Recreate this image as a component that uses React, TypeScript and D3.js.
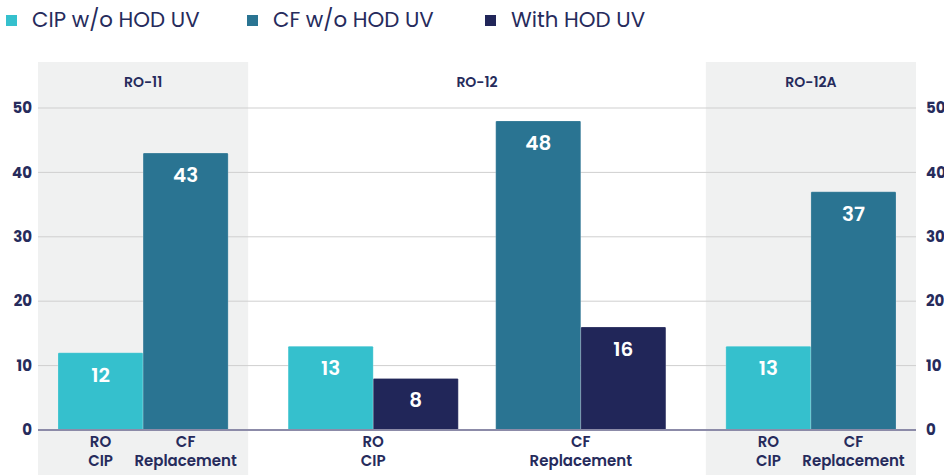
import React from "react";
import * as d3 from "d3";

const seriesNames = ["CIP w/o HOD UV", "CF w/o HOD UV", "With HOD UV"];
const seriesColors = ["#35C0CD", "#2A7492", "#212659"];

const panelNames = ["RO-11", "RO-12", "RO-12A"];
const categoryLabels = [["RO", "CIP"], ["CF", "Replacement"]];

// value per panel, per category, per series (null = no bar)
const ro11 = [[12, null, null], [null, 43, null]];
const ro12 = [[13, null, 8], [null, 48, 16]];
const ro12a = [[13, null, null], [null, 37, null]];
const panelValues = [ro11, ro12, ro12a];

const yTicks = [0, 10, 20, 30, 40, 50];

const W = 944, H = 475;
const left = 38, right = 916, top = 62, bottom = 430;
const ink = "#262B5C";
const font = "Poppins, Inter, 'Noto Sans', sans-serif";

// layout in bar-width units
const panelPad = [0.235, 0.47, 0.235];
const panelGap = [0, 0.44, 0];

export default function App() {
  const y = d3.scaleLinear().domain([0, 50]).range([bottom, 108]);

  // compute panel widths in units
  const layout = panelValues.map((cats, i) => {
    const counts = cats.map(c => c.filter(v => v !== null).length);
    const w = panelPad[i] * 2 + d3.sum(counts) + panelGap[i] * (counts.length - 1);
    return { counts, w };
  });
  const total = d3.sum(layout, l => l.w);
  const x = d3.scaleLinear().domain([0, total]).range([left, right]);

  const panels: any[] = [];
  let cursor = 0;
  layout.forEach((l, i) => {
    const start = cursor;
    let u = start + panelPad[i];
    const cats = panelValues[i].map((vals, ci) => {
      const bars: any[] = [];
      const catStart = u;
      vals.forEach((v, si) => {
        if (v === null) return;
        bars.push({ v, si, x0: x(u), x1: x(u + 1) });
        u += 1;
      });
      const c = { bars, center: (x(catStart) + x(u)) / 2, label: categoryLabels[ci] };
      u += panelGap[i];
      return c;
    });
    cursor += l.w;
    panels.push({ name: panelNames[i], x0: x(start), x1: x(cursor), cats, shaded: i !== 1 });
  });

  const legendX = [8, 249, 487];

  return (
    <svg width={W} height={H} style={{ position: "absolute", left: 0, top: 0, fontFamily: font }}>
      <rect width={W} height={H} fill="#fff" />
      {seriesNames.map((s, i) => (
        <g key={s} transform={`translate(${legendX[i]},0)`}>
          <rect x={-2} y={15} width={11} height={11} fill={seriesColors[i]} />
          <text x={24} y={27} fontSize={21.3} fill={ink}>{s}</text>
        </g>
      ))}
      {panels.map(p => p.shaded && (
        <rect key={p.name} x={p.x0} y={top} width={p.x1 - p.x0} height={H - top} fill="#F0F1F1" />
      ))}
      {yTicks.map(t => (
        <g key={t}>
          {t > 0 && <line x1={left} x2={right} y1={y(t)} y2={y(t)} stroke="#CFCFCF" strokeWidth={1} />}
          <text x={32} y={y(t)} dy="0.35em" textAnchor="end" fontSize={15} fontWeight={700} fill={ink}>{t}</text>
          <text x={926} y={y(t)} dy="0.35em" textAnchor="start" fontSize={15} fontWeight={700} fill={ink}>{t}</text>
        </g>
      ))}
      {panels.map(p => (
        <g key={p.name}>
          <text x={(p.x0 + p.x1) / 2} y={82} dy="0.35em" textAnchor="middle" fontSize={14} fontWeight={600} fill={ink}>{p.name}</text>
          {p.cats.map((c: any, ci: number) => (
            <g key={ci}>
              {c.bars.map((b: any) => (
                <g key={b.si}>
                  <rect x={b.x0} y={y(b.v)} width={b.x1 - b.x0} height={y(0) - y(b.v)} rx={1}
                    fill={seriesColors[b.si]} stroke="#ffffff" strokeOpacity={0.35} strokeWidth={0.6} />
                  <text x={(b.x0 + b.x1) / 2} y={y(b.v) + 22} dy="0.35em" textAnchor="middle"
                    fontSize={20} fontWeight={600} fill="#fff">{b.v}</text>
                </g>
              ))}
              {c.label.map((t: string, li: number) => (
                <text key={li} x={c.center} y={442 + li * 19} dy="0.35em" textAnchor="middle"
                  fontSize={15} fontWeight={600} fill={ink}>{t}</text>
              ))}
            </g>
          ))}
        </g>
      ))}
      <line x1={left} x2={right} y1={bottom} y2={bottom} stroke="#8C8BA8" strokeWidth={2} />
    </svg>
  );
}
